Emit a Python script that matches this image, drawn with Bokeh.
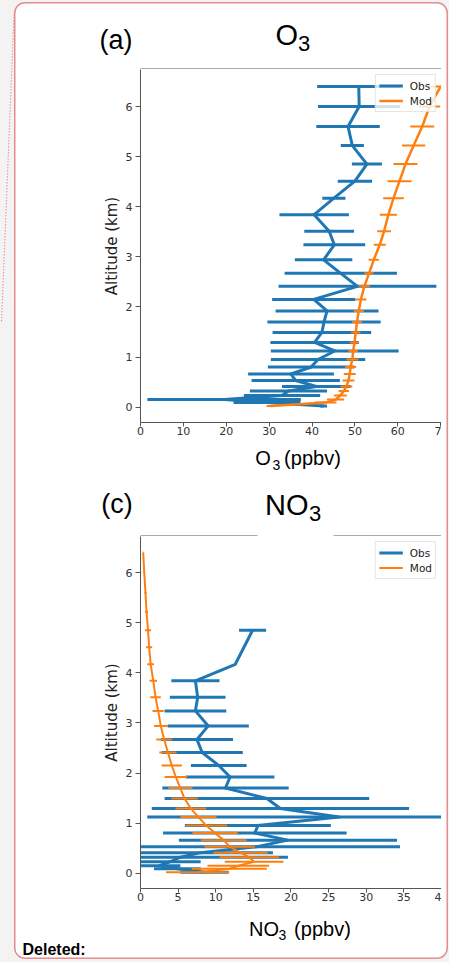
import numpy as np
from bokeh.plotting import figure
from bokeh.models import (ColumnDataSource, FixedTicker, Label, Legend, LegendItem, Range1d, Spacer)
from bokeh.layouts import column, row
from bokeh.embed import file_html
from bokeh.resources import INLINE

# ---------------- data ----------------
alt = [6.40, 6.00, 5.60, 5.22, 4.85, 4.51, 4.17, 3.84, 3.51, 3.24, 2.94, 2.67, 2.41, 2.15,
       1.92, 1.70, 1.49, 1.29, 1.12, 0.95, 0.80, 0.66, 0.53, 0.41, 0.32, 0.23, 0.15, 0.09, 0.02]

o3_obs = [50.9, 51.0, 48.4, 49.4, 52.8, 50.0, 45.1, 40.5, 44.0, 45.2, 42.7, 46.7, 50.6, 40.4,
          43.5, 42.8, 42.3, 40.6, 45.3, 41.4, 39.8, 35.1, 36.2, 41.0, 34.5, 33.0, 19.5, 29.5, 42.7]
o3_obs_err = [9.7, 9.6, 7.4, 2.7, 3.5, 4.0, 2.7, 8.1, 5.8, 7.2, 6.7, 13.1, 18.4, 9.7,
              12.0, 13.2, 11.5, 10.3, 14.9, 11.0, 10.1, 10.0, 10.3, 8.0, 9.0, 8.9, 17.9, 7.8, 0.8]
o3_mod = [70.0, 67.4, 65.7, 63.7, 61.8, 60.4, 59.0, 57.8, 56.8, 55.8, 54.4, 53.3, 52.2, 51.4,
          50.9, 50.5, 50.2, 49.9, 49.6, 49.4, 49.0, 48.8, 48.5, 48.0, 47.4, 46.6, 45.5, 43.2, 30.4]
o3_mod_err = [3.2, 2.5, 2.8, 2.7, 2.8, 2.8, 2.4, 2.0, 1.6, 1.4, 1.2, 1.1, 1.3, 1.3,
              1.2, 1.2, 1.1, 1.1, 1.1, 1.4, 1.3, 1.4, 1.4, 1.4, 1.2, 1.5, 2.0, 2.5, 1.0]

no3_obs_alt = [4.85, 4.17, 3.84, 3.51, 3.24, 2.94, 2.67, 2.41, 2.15, 1.92, 1.70, 1.49, 1.29,
               1.12, 0.95, 0.80, 0.66, 0.53, 0.41, 0.32, 0.23, 0.15, 0.09, 0.02]
no3_obs = [14.9, 12.6, 7.3, 7.6, 7.3, 9.0, 7.5, 8.2, 10.4, 11.9, 11.3, 16.8, 18.6,
           26.4, 15.6, 15.2, 19.6, 15.5, 8.0, 5.3, 4.0, 2.5, 4.9, 8.5]
no3_obs_err = [1.8, 0.0, 3.2, 3.7, 4.1, 5.4, 4.8, 5.4, 3.7, 5.9, 8.4, 13.6, 17.1,
               25.5, 9.7, 12.2, 14.5, 19.0, 9.6, 14.3, 4.0, 2.8, 3.1, 3.2]
no3_mod = [0.36, 0.5, 0.66, 0.8, 1.0, 1.15, 1.35, 1.7, 2.0, 2.35, 2.7, 3.15, 3.65, 4.15,
           4.7, 5.3, 5.85, 6.7, 7.7, 8.75, 9.9, 11.05, 11.85, 13.3, 14.45, 15.1, 13.0, 11.8, 7.6]
no3_mod_err = [0.05, 0.1, 0.15, 0.2, 0.4, 0.4, 0.45, 0.5, 0.7, 0.75, 0.9, 1.05, 1.15, 1.35,
               1.5, 1.6, 1.75, 2.05, 2.4, 2.75, 3.0, 3.05, 3.35, 3.6, 3.95, 3.9, 4.1, 5.0, 4.2]

o3_xticks = [0, 10, 20, 30, 40, 50, 60, 70]
no3_xticks = [0, 5, 10, 15, 20, 25, 30, 35, 40]
yticks = [0, 1, 2, 3, 4, 5, 6]
# the last x tick label is cut by the page edge in the reference
o3_xtick_overrides = {70: "7"}
no3_xtick_overrides = {40: "4"}

# ---------------- style / layout constants (pixels) ----------------
BLUE = "#1f77b4"
ORANGE = "#ff7f0e"
AXC = "#555555"
TICKC = "#333333"
BORDER = "#e58c8c"
PAGE_BG = "#f3f3f3"

BOX_X = 14                 # page x of the white box
FIG_W = 427                # figures run from page x 14 to 441 (clip edge)
FRAME_L = 140              # page x of frame left edge
FRAME_W = 301
M_BOT = 24                 # space for the x ticks below each frame
BASE_K = 0.43              # measured offset of the rendered baseline (in em)


def src_of(a, v, e):
    a = np.asarray(a, float); v = np.asarray(v, float); e = np.asarray(e, float)
    return ColumnDataSource(dict(alt=a, val=v, lo=v - e, hi=v + e))


def strip(w, h, bg=None):
    """A figure whose frame is the whole canvas; data units = pixels from top-left."""
    p = figure(width=w, height=h, x_range=Range1d(0, w), y_range=Range1d(h, 0),
               output_backend="svg", toolbar_location=None, tools="",
               x_axis_location=None, y_axis_location=None, frame_align=False,
               min_border_left=0, min_border_right=0, min_border_top=0, min_border_bottom=0)
    p.grid.visible = False
    p.outline_line_color = None
    p.border_fill_color = None
    p.background_fill_color = bg
    return p


def txt(p, x, y, text, size, font="Liberation Sans", style="normal"):
    """Place text so that its baseline falls at pixel row y."""
    px = float(size.replace("px", ""))
    p.add_layout(Label(x=x, y=y - BASE_K * px, text=text, text_font=font, text_font_size=size,
                       text_font_style=style, text_baseline="alphabetic", text_align="left",
                       text_color="black"))


def panel(frame_h, x_end, y0, y1, xticks, overrides):
    p = figure(width=FIG_W, height=frame_h + M_BOT, x_range=Range1d(0, x_end),
               y_range=Range1d(y0, y1), output_backend="svg", toolbar_location=None, tools="",
               frame_align=False,
               min_border_left=FRAME_L - BOX_X, min_border_right=0,
               min_border_top=0, min_border_bottom=M_BOT)
    p.border_fill_color = None
    p.background_fill_color = "white"
    p.outline_line_color = None
    p.xgrid.visible = False
    p.ygrid.visible = False
    for ax in (p.xaxis[0], p.yaxis[0]):
        ax.axis_line_color = AXC
        ax.major_tick_line_color = AXC
        ax.minor_tick_line_color = None
        ax.major_tick_in = 0
        ax.major_label_text_font = "DejaVu Sans"
        ax.major_label_text_font_size = "11px"
        ax.major_label_text_color = TICKC
    p.xaxis[0].ticker = FixedTicker(ticks=xticks)
    p.xaxis[0].major_label_overrides = overrides
    p.xaxis[0].major_tick_out = 4
    p.xaxis[0].major_label_standoff = 0
    p.yaxis[0].ticker = FixedTicker(ticks=yticks)
    p.yaxis[0].major_tick_out = 5
    p.yaxis[0].major_label_standoff = 3
    p.yaxis[0].axis_label = "Altitude (km)"
    p.yaxis[0].axis_label_text_font = "DejaVu Sans"
    p.yaxis[0].axis_label_text_font_size = "15px"
    p.yaxis[0].axis_label_text_font_style = "normal"
    p.yaxis[0].axis_label_text_color = "#222222"
    p.yaxis[0].axis_label_standoff = 2
    return p


def draw(p, obs_src, mod_src, obs_w, mod_w, mod_bar_w):
    p.segment(x0="lo", y0="alt", x1="hi", y1="alt", source=obs_src, line_color=BLUE, line_width=3)
    lo = p.line("val", "alt", source=obs_src, line_color=BLUE, line_width=obs_w, line_join="round")
    p.segment(x0="lo", y0="alt", x1="hi", y1="alt", source=mod_src, line_color=ORANGE,
              line_width=mod_bar_w)
    lm = p.line("val", "alt", source=mod_src, line_color=ORANGE, line_width=mod_w, line_join="round")
    leg = Legend(items=[LegendItem(label="Obs", renderers=[lo]), LegendItem(label="Mod", renderers=[lm])],
                 location="top_right", margin=5, padding=3, spacing=0,
                 glyph_width=24, glyph_height=15, label_height=15, label_standoff=7,
                 label_text_font="DejaVu Sans", label_text_font_size="10.5px",
                 label_text_color="#222222",
                 border_line_color="#cccccc", border_line_width=1,
                 background_fill_color="white", background_fill_alpha=0.8)
    p.add_layout(leg)


def top_spine(p, h, gaps=()):
    """Top edge of the axes frame, drawn at the bottom of the title strip."""
    xs = [FRAME_L - BOX_X] + [g for pair in gaps for g in pair] + [FIG_W]
    n = len(xs) // 2
    p.segment(x0=xs[0::2], y0=[h - 0.5] * n, x1=xs[1::2], y1=[h - 0.5] * n,
              line_color=AXC, line_width=1)


X = lambda px: px - BOX_X

# ---------------- panel (a) O3 : page y 2 .. 480 ----------------
A_TOP = 2
A_SX, A_SY, A_Y0 = 4.288, 50.1, 406.6          # px per ppbv, px per km, page y of 0 km
A_FT, A_FB = 69, 422                            # frame top / bottom (page y)

tA = strip(FIG_W, A_FT - A_TOP)
YA = lambda py: py - A_TOP
txt(tA, X(99), YA(51), "(a)", "27px")
txt(tA, X(275), YA(47.3), "O", "29px")
txt(tA, X(297.5), YA(52), "3", "22px")
top_spine(tA, A_FT - A_TOP)

pA = panel(A_FB - A_FT, FRAME_W / A_SX, (A_Y0 - A_FB) / A_SY, (A_Y0 - A_FT) / A_SY,
           o3_xticks, o3_xtick_overrides)
draw(pA, src_of(alt, o3_obs, o3_obs_err), src_of(alt, o3_mod, o3_mod_err), 3, 2.5, 2)

A_LT = A_FB + M_BOT
lA = strip(FIG_W, 480 - A_LT)
YL = lambda py: py - A_LT
txt(lA, X(254.7), YL(466.5), "O", "20px")
txt(lA, X(272.0), YL(470.7), "3", "14px")
txt(lA, X(283.6), YL(466.5), "(ppbv)", "20px")

# ---------------- panel (c) NO3 : page y 480 .. 958 ----------------
B_TOP = 480
B_SX, B_SY, B_Y0 = 7.523, 50.1, 872.7
B_FT, B_FB = 536, 888

tB = strip(FIG_W, B_FT - B_TOP)
YB = lambda py: py - B_TOP
txt(tB, X(100.7), YB(515), "(c)", "27px")
txt(tB, X(264.5), YB(516.7), "NO", "29px")
txt(tB, X(308.5), YB(522.5), "3", "22px")
top_spine(tB, B_FT - B_TOP, gaps=[(X(257), X(333))])

pB = panel(B_FB - B_FT, FRAME_W / B_SX, (B_Y0 - B_FB) / B_SY, (B_Y0 - B_FT) / B_SY,
           no3_xticks, no3_xtick_overrides)
draw(pB, src_of(no3_obs_alt, no3_obs, no3_obs_err), src_of(alt, no3_mod, no3_mod_err), 3, 2, 2)

B_LT = B_FB + M_BOT
lB = strip(FIG_W, 958 - B_LT)
YLB = lambda py: py - B_LT
txt(lB, X(248.5), YLB(936.7), "NO", "20px")
txt(lB, X(278.0), YLB(940.5), "3", "14px")
txt(lB, X(293.6), YLB(936.7), "(ppbv)", "20px")
txt(lB, X(22), YLB(955.5), "Deleted:", "16px", style="bold")

# ---------------- page: grey margin, comment connector, rounded box ----------------
band = strip(BOX_X, 962, bg=PAGE_BG)
band.segment(x0=[13.5], y0=[14], x1=[1.0], y1=[322], line_color="#e06060", line_width=1,
             line_dash="1 2")

inner = column(tA, pA, lA, tB, pB, lB, width=434, height=957,
               styles={"background-color": "white",
                       "border-radius": "11px",
                       "box-shadow": f"inset 0 0 0 1.5px {BORDER}"})
right = column(Spacer(width=434, height=2), inner, width=434, height=962)
root = row(band, right, width=449, height=962, styles={"background-color": PAGE_BG})

open("out.html", "w").write(file_html(root, INLINE))
